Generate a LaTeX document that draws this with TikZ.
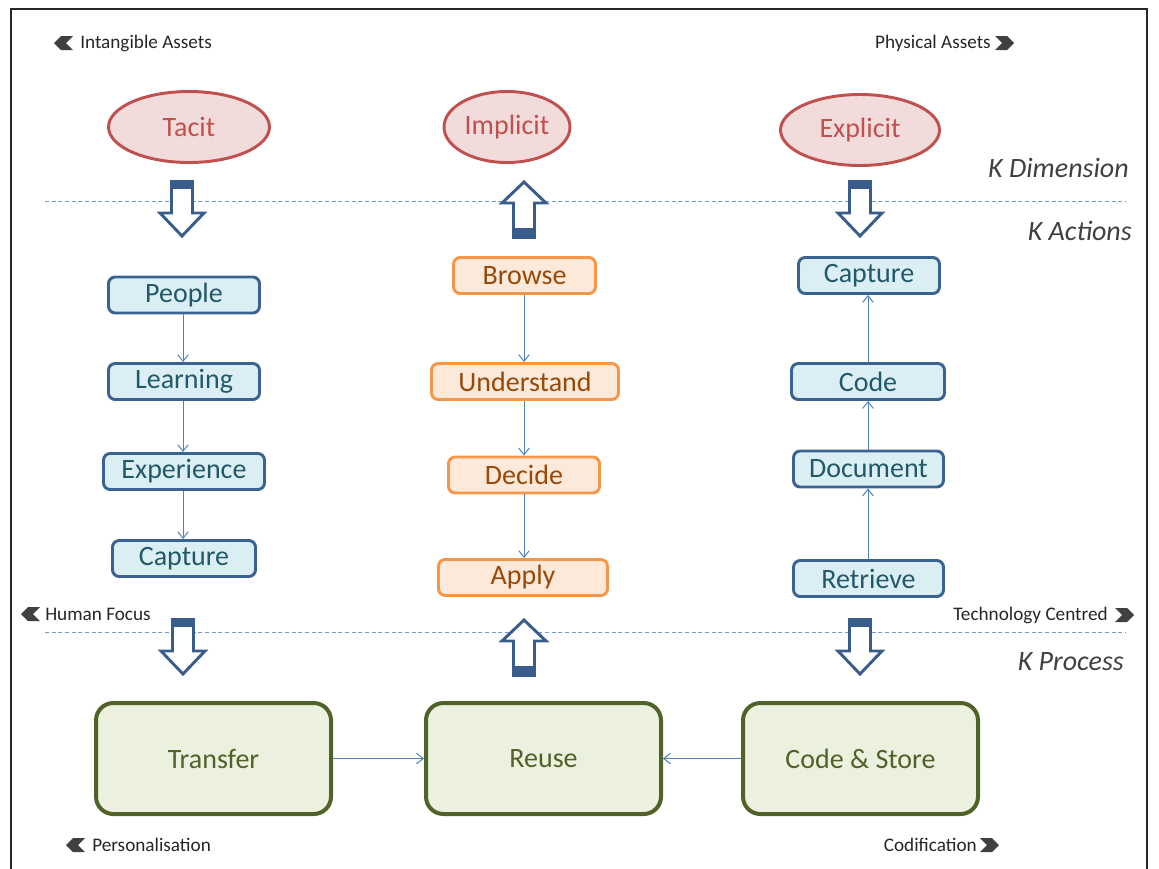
\documentclass[tikz,border=0pt]{standalone}
\usepackage{fontspec}
\setmainfont{Carlito}
\usetikzlibrary{arrows.meta,shapes.geometric}

\definecolor{redline}{HTML}{C0504D}
\definecolor{redfill}{HTML}{F2DCDB}
\definecolor{blueline}{HTML}{3B6391}
\definecolor{bluefill}{HTML}{DBEEF4}
\definecolor{bluetext}{HTML}{215968}
\definecolor{orangeline}{HTML}{F79646}
\definecolor{orangefill}{HTML}{FDE9D9}
\definecolor{orangetext}{HTML}{984807}
\definecolor{greenline}{HTML}{4F6228}
\definecolor{greenfill}{HTML}{EBF1DE}
\definecolor{linkblue}{HTML}{4F81BD}
\definecolor{blockblue}{HTML}{385D8A}
\definecolor{labelgray}{HTML}{262626}
\definecolor{kgray}{HTML}{404040}
\definecolor{chevgray}{HTML}{404040}

\begin{document}
\begin{tikzpicture}[x=0.75pt,y=-0.75pt,
  bigfont/.style={font=\fontsize{21}{24}\selectfont},
  smallfont/.style={font=\fontsize{14.4}{17}\selectfont},
  dim/.style={ellipse, draw=redline, fill=redfill, line width=2.2pt, text=redline,
    bigfont, inner sep=0pt},
  bluebox/.style={rectangle, rounded corners=5pt, draw=blueline, fill=bluefill,
    line width=2.2pt, text=bluetext, bigfont, minimum height=36*0.75pt, inner sep=0pt},
  orangebox/.style={rectangle, rounded corners=5pt, draw=orangeline, fill=orangefill,
    line width=2.2pt, text=orangetext, bigfont, minimum height=36*0.75pt, inner sep=0pt},
  procbox/.style={rectangle, rounded corners=13pt, draw=greenline, fill=greenfill,
    line width=3pt, text=greenline, bigfont, minimum width=235*0.75pt,
    minimum height=111*0.75pt},
  link/.style={draw=linkblue, line width=0.75pt, -{Straight Barb[length=5pt,width=8pt]}},
  sep/.style={draw=linkblue!80, line width=0.6pt, dash pattern=on 3pt off 2pt},
  lab/.style={text=labelgray, smallfont, inner sep=0pt},
  klab/.style={text=kgray, font=\fontsize{21}{24}\selectfont\itshape, inner sep=0pt},
  blockdown/.pic={
    \draw[blockblue, line width=2.2pt, fill=white, line join=miter]
      (-10.5,1.5) -- (10.5,1.5) -- (10.5,33) -- (22,33) -- (0,56) -- (-22,33)
      -- (-10.5,33) -- cycle;
    \fill[blockblue] (-10.5,1.5) rectangle (10.5,9);
  },
  blockup/.pic={
    \draw[blockblue, line width=2.2pt, fill=white, line join=miter]
      (-10.5,56.5) -- (10.5,56.5) -- (10.5,22) -- (22,22) -- (0,1) -- (-22,22)
      -- (-10.5,22) -- cycle;
    \fill[blockblue] (-10.5,56.5) rectangle (10.5,47);
  },
  chevleft/.pic={
    \fill[chevgray] (0,0) -- (7,-7) -- (19,-7) -- (12,0) -- (19,7) -- (7,7) -- cycle;
  },
  chevright/.pic={
    \fill[chevgray] (19,0) -- (12,-7) -- (0,-7) -- (7,0) -- (0,7) -- (12,7) -- cycle;
  }
]
\useasboundingbox (0,0) rectangle (1159,868);

% outer frame
\draw[labelgray, line width=1.5pt] (10.5,880) -- (10.5,8.5) -- (1147,8.5) -- (1147,880);
\clip (0,0) rectangle (1159,868);

% section separators
\draw[sep] (45,201) -- (1126,201);
\draw[sep] (45,632) -- (1126,632);

% side captions
\pic at (54,43) {chevleft};
\node[lab, anchor=west] (intang) at (80,43) {Intangible Assets};
\node[lab, anchor=east] (phys) at (991,43) {Physical Assets};
\pic at (995,43) {chevright};

\pic at (21,614) {chevleft};
\node[lab, anchor=west] (human) at (45,614) {Human Focus};
\node[lab, anchor=east] (tech) at (1108,615) {Technology Centred};
\pic at (1115,615) {chevright};

\pic at (66,845) {chevleft};
\node[lab, anchor=west] (pers) at (92,845) {Personalisation};
\node[lab, anchor=east] (codif) at (977,845) {Codification};
\pic at (980,845) {chevright};

\node[klab, anchor=east] (kdim) at (1129,168) {K Dimension};
\node[klab, anchor=east] (kact) at (1132,231) {K Actions};
\node[klab, anchor=east] (kproc) at (1124,662) {K Process};

% knowledge dimensions
\node[dim, minimum width=161*0.75pt, minimum height=71*0.75pt] (tacit) at (189,127) {Tacit};
\node[dim, minimum width=126*0.75pt, minimum height=71*0.75pt] (implicit) at (507,127) {Implicit};
\node[dim, minimum width=159*0.75pt, minimum height=71*0.75pt] (explicit) at (860,130) {Explicit};

% block arrows between layers
\pic at (182,180) {blockdown};
\pic at (524,181) {blockup};
\pic at (860,180) {blockdown};
\pic at (183,618) {blockdown};
\pic at (524,619) {blockup};
\pic at (860,618) {blockdown};

% tacit actions
\node[bluebox, minimum width=151*0.75pt] (people) at (184,295) {People};
\node[bluebox, minimum width=151*0.75pt] (learning) at (184,381.5) {Learning};
\node[bluebox, minimum width=161*0.75pt] (experience) at (184,471.5) {Experience};
\node[bluebox, minimum width=143*0.75pt] (captureL) at (184,558.5) {Capture};

% implicit actions
\node[orangebox, minimum width=142*0.75pt] (browse) at (524.5,275.5) {Browse};
\node[orangebox, minimum width=187*0.75pt] (understand) at (525,381.5) {Understand};
\node[orangebox, minimum width=151*0.75pt] (decide) at (524,475) {Decide};
\node[orangebox, minimum width=169*0.75pt] (apply) at (523,577.5) {Apply};

% explicit actions
\node[bluebox, minimum width=141*0.75pt] (captureR) at (869,275.5) {Capture};
\node[bluebox, minimum width=153*0.75pt] (code) at (868,381.5) {Code};
\node[bluebox, minimum width=150*0.75pt] (document) at (868.5,469) {Document};
\node[bluebox, minimum width=150*0.75pt] (retrieve) at (868.5,578.5) {Retrieve};

% processes
\node[procbox] (transfer) at (213.5,758.5) {Transfer};
\node[procbox] (reuse) at (543.5,758.5) {Reuse};
\node[procbox] (codestore) at (860.5,758.5) {Code \& Store};

% action flows
\draw[link] (people.south -| 183,0) -- (learning.north -| 183,0);
\draw[link] (learning.south -| 183,0) -- (experience.north -| 183,0);
\draw[link] (experience.south -| 183,0) -- (captureL.north -| 183,0);

\draw[link] (browse.south -| 524,0) -- (understand.north -| 524,0);
\draw[link] (understand.south -| 524,0) -- (decide.north -| 524,0);
\draw[link] (decide.south -| 524,0) -- (apply.north -| 524,0);

\draw[link] (retrieve.north -| 868,0) -- (document.south -| 868,0);
\draw[link] (document.north -| 868,0) -- (code.south -| 868,0);
\draw[link] (code.north -| 868,0) -- (captureR.south -| 868,0);

\draw[link] (transfer.east) -- (reuse.west);
\draw[link] (codestore.west) -- (reuse.east);
\end{tikzpicture}
\end{document}
